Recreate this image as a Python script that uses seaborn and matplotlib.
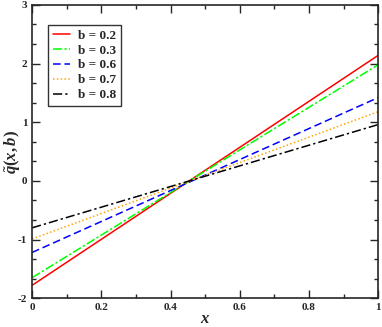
import numpy as np
import matplotlib
matplotlib.use('Agg')
import matplotlib.pyplot as plt
import seaborn as sns
import pandas as pd
from matplotlib.ticker import MultipleLocator

# line end points
b_labels = ['b = 0.2', 'b = 0.3', 'b = 0.6', 'b = 0.7', 'b = 0.8']
x_pts = [0.0, 1.0]
q_at_0 = [-1.78, -1.65, -1.22, -0.99, -0.80]
q_at_1 = [2.14, 1.98, 1.42, 1.18, 0.96]

colors = ['#ff0000', '#00ff00', '#0000ff', '#ffa500', '#000000']
dashes = ['', (6, 1.5, 1.5, 1.5), (5, 2.5), (1, 1.5), (6, 2, 1.5, 2)]

rows = []
for lab, a, b in zip(b_labels, q_at_0, q_at_1):
    rows.append({'x': x_pts[0], 'q': a, 'b': lab})
    rows.append({'x': x_pts[1], 'q': b, 'b': lab})
df = pd.DataFrame(rows)

sns.set_style('ticks')
plt.rcParams['font.family'] = ['Liberation Serif', 'DejaVu Serif']
plt.rcParams['font.weight'] = 'bold'
plt.rcParams['mathtext.fontset'] = 'custom'
plt.rcParams['mathtext.it'] = 'Liberation Serif:italic:bold'
plt.rcParams['mathtext.rm'] = 'Liberation Serif:bold'

fig = plt.figure(figsize=(3.82, 3.27), dpi=100)
ax = fig.add_axes([0.084, 0.088, 0.906, 0.897])

sns.lineplot(data=df, x='x', y='q', hue='b', style='b', palette=colors,
             dashes=dashes, ax=ax, linewidth=1.1, legend=True)

ax.set_xlim(0, 1)
ax.set_ylim(-2, 3)
ax.xaxis.set_minor_locator(MultipleLocator(0.1))
ax.yaxis.set_minor_locator(MultipleLocator(1 / 3))
ax.set_xticks([0, 0.2, 0.4, 0.6, 0.8, 1.0])
ax.set_xticklabels(['0', '0.2', '0.4', '0.6', '0.8', '1'])
ax.set_yticks([-2, -1, 0, 1, 2, 3])
ax.set_yticklabels(['-2', '-1', '0', '1', '2', '3'])
ax.tick_params(which='both', direction='in', top=True, right=True,
               labelsize=8, width=1)
ax.tick_params(which='major', length=6)
ax.tick_params(which='minor', length=3)
for s in ax.spines.values():
    s.set_linewidth(1.2)

ax.set_xlabel(r'$x$', fontsize=12)
ax.set_ylabel(r'$\tilde{q}(x,b)$', fontsize=12)
ax.xaxis.set_label_coords(0.5, -0.045)
ax.yaxis.set_label_coords(-0.03, 0.5)

leg = ax.legend(loc='upper left', bbox_to_anchor=(0.046, 0.932),
                borderaxespad=0, handlelength=1.3, handletextpad=0.6,
                labelspacing=0.2, frameon=True, fancybox=False, borderpad=0.35,
                prop={'weight': 'bold', 'size': 9.5})
leg.get_frame().set_edgecolor('black')
leg.get_frame().set_linewidth(1.0)

fig.savefig('out.png', dpi=100)
